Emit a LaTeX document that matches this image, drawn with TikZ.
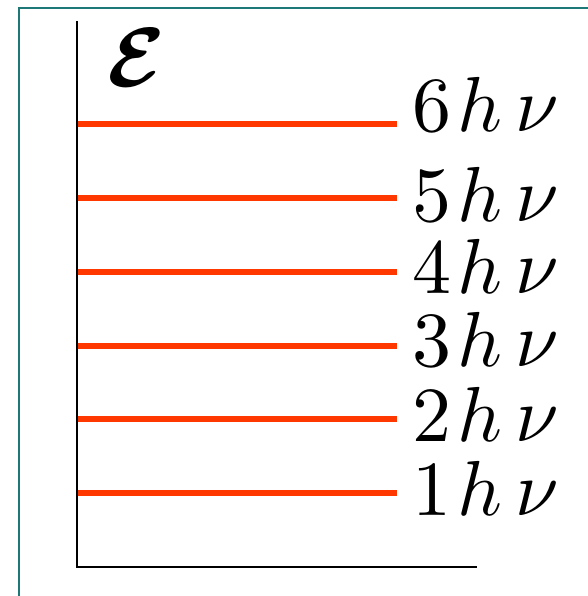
\documentclass[tikz,border=0pt]{standalone}
\definecolor{frameteal}{RGB}{30,120,120}
\definecolor{levelred}{RGB}{255,56,0}
\begin{document}
\begin{tikzpicture}[x=1pt,y=-1pt,
  axisline/.style={line width=2.6pt,black},
  levelline/.style={line width=6pt,levelred},
  levellabel/.style={anchor=base west,inner sep=0pt}]
\useasboundingbox (0,0) rectangle (587,596);
% frame
\draw[frameteal,line width=2pt] (18.5,600) -- (18.5,8) -- (590,8);
% axes
\coordinate (top) at (77,21);
\coordinate (origin) at (77,567);
\coordinate (xend) at (477,567);
\draw[axisline,line cap=butt] (top) -- (origin) -- (xend);
\node[anchor=north west,inner sep=0pt] (eps) at (107,29) {\scalebox{8.4}{\boldmath$\mathcal{E}$}};
% levels
\foreach \n/\y/\b in {6/124/132,5/198/221,4/272/293,3/346/366,2/419/441,1/493/515}{
  \coordinate (l\n a) at (78.3,\y);
  \coordinate (l\n b) at (397,\y);
  \draw[levelline] (l\n a) -- (l\n b);
  \node[levellabel] (lab\n) at (412,\b) {\scalebox{7.8}{$\n\mkern1.5mu h\mkern3mu\nu$}};
}
\end{tikzpicture}
\end{document}
